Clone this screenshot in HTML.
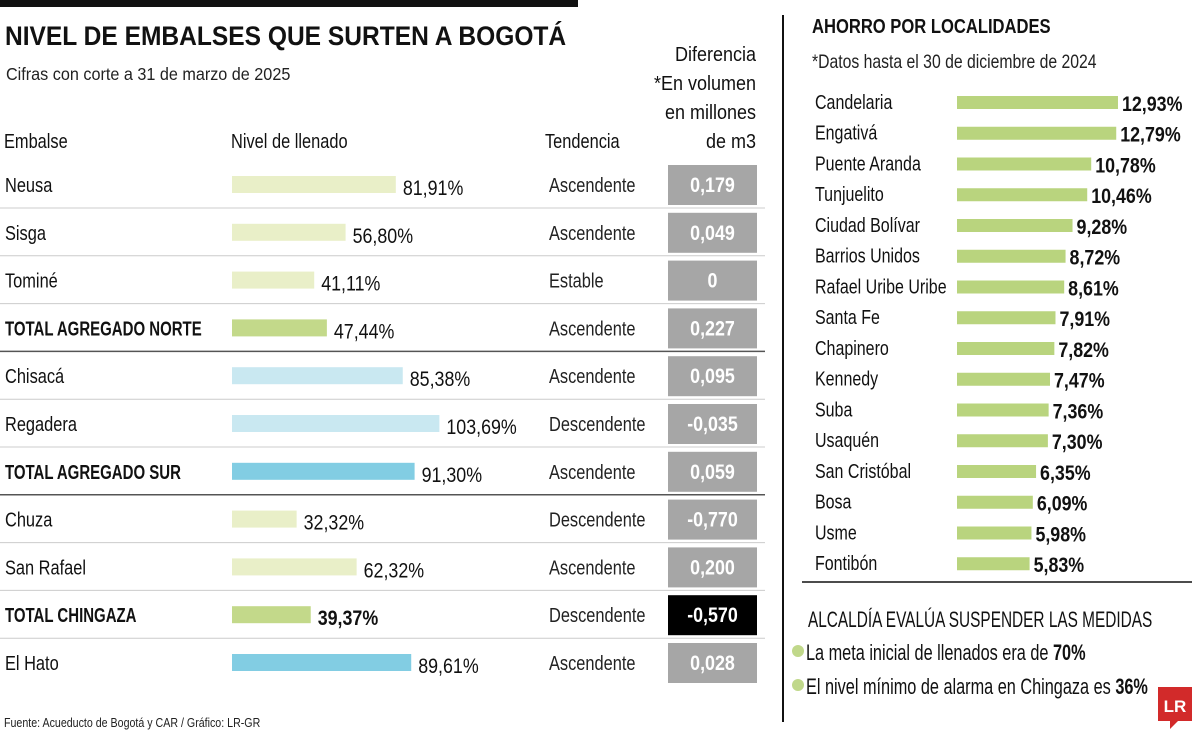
<!DOCTYPE html>
<html><head><meta charset="utf-8"><style>
html,body{margin:0;padding:0;background:#fff}
svg{display:block}
text{font-family:"Liberation Sans Narrow","Liberation Sans",sans-serif}
</style></head><body>
<svg id="c" width="1200" height="736" viewBox="0 0 1200 736" xmlns="http://www.w3.org/2000/svg">
<rect x="0" y="0" width="578" height="7" fill="#111"/>
<text x="5" y="45" font-size="27" font-weight="bold" fill="#111" data-sx="0.91">NIVEL DE EMBALSES QUE SURTEN A BOGOTÁ</text>
<text x="6" y="80" font-size="18" fill="#222" data-sx="0.9">Cifras con corte a 31 de marzo de 2025</text>
<text x="4" y="148" font-size="20" fill="#111" data-sx="0.82">Embalse</text>
<text x="231" y="148" font-size="20" fill="#111" data-sx="0.82">Nivel de llenado</text>
<text x="545" y="148" font-size="20" fill="#111" data-sx="0.82">Tendencia</text>
<g font-size="20" fill="#111" text-anchor="end">
<text x="756" y="61" data-sx="0.9">Diferencia</text><text x="756" y="90" data-sx="0.9">*En volumen</text><text x="756" y="119" data-sx="0.9">en millones</text><text x="756" y="148" data-sx="0.9">de m3</text>
</g>
<g id="left"></g>
<line x1="783" y1="15" x2="783" y2="722" stroke="#111" stroke-width="2"/>
<text x="812" y="33" font-size="20" font-weight="bold" fill="#111" data-sx="0.83">AHORRO POR LOCALIDADES</text>
<text x="812" y="68" font-size="19" fill="#222" data-sx="0.83">*Datos hasta el 30 de diciembre de 2024</text>
<g id="right"></g>
<line x1="802" y1="582" x2="1192" y2="582" stroke="#111" stroke-width="1.5"/>
<text x="808" y="627" font-size="22" fill="#111" data-sx="0.70">ALCALDÍA EVALÚA SUSPENDER LAS MEDIDAS</text>
<circle cx="798" cy="651" r="6" fill="#c0d88a"/>
<text x="806" y="660" font-size="22" fill="#111" data-sx="0.74">La meta inicial de llenados era de <tspan font-weight="bold">70%</tspan></text>
<circle cx="798" cy="685" r="6" fill="#c0d88a"/>
<text x="806" y="694" font-size="22" fill="#111" data-sx="0.74">El nivel mínimo de alarma en Chingaza es <tspan font-weight="bold">36%</tspan></text>
<g>
<rect x="1158" y="687" width="34" height="34" fill="#d22a2a"/><polygon points="1170,721 1178,721 1170,729" fill="#d22a2a"/>
<text x="1175" y="712" font-size="17" font-weight="bold" fill="#fff" text-anchor="middle" font-family="Liberation Serif,serif">LR</text>
</g>
<text x="4" y="727" font-size="13" fill="#222" data-sx="0.82">Fuente: Acueducto de Bogotá y CAR / Gráfico: LR-GR</text>
</svg>
<script>
const names=["Neusa","Sisga","Tominé","TOTAL AGREGADO NORTE","Chisacá","Regadera","TOTAL AGREGADO SUR","Chuza","San Rafael","TOTAL CHINGAZA","El Hato"];
const levels=[81.91,56.80,41.11,47.44,85.38,103.69,91.30,32.32,62.32,39.37,89.61];
const trends=["Ascendente","Ascendente","Estable","Ascendente","Ascendente","Descendente","Ascendente","Descendente","Ascendente","Descendente","Ascendente"];
const diffs=["0,179","0,049","0","0,227","0,095","-0,035","0,059","-0,770","0,200","-0,570","0,028"];
const barColors=["#e9efc8","#e9efc8","#e9efc8","#c3d98a","#c9e8f1","#c9e8f1","#82cde3","#e9efc8","#e9efc8","#c3d98a","#82cde3"];
const bold=[false,false,false,true,false,false,true,false,false,true,false];
const locs=["Candelaria","Engativá","Puente Aranda","Tunjuelito","Ciudad Bolívar","Barrios Unidos","Rafael Uribe Uribe","Santa Fe","Chapinero","Kennedy","Suba","Usaquén","San Cristóbal","Bosa","Usme","Fontibón"];
const saving=[12.93,12.79,10.78,10.46,9.28,8.72,8.61,7.91,7.82,7.47,7.36,7.30,6.35,6.09,5.98,5.83];
const NS="http://www.w3.org/2000/svg";
function mk(t,a,p){const e=document.createElementNS(NS,t);for(const k in a)e.setAttribute(k,a[k]);p.appendChild(e);return e;}
const L=document.getElementById('left');
const xL=v=>232+v*2.0, yRow=i=>184+i*47.8;
names.forEach((n,i)=>{
  const cy=yRow(i);
  const t=mk('text',{x:5,y:cy+8,'font-size':20,fill:'#111','font-weight':bold[i]?'bold':'normal','data-sx':bold[i]?0.75:0.82},L);t.textContent=n;
  
  
  const b=mk('rect',{x:232,y:cy-8,width:xL(levels[i])-232,height:17,fill:barColors[i]},L);
  
  
  const v=mk('text',{x:xL(levels[i])+7,y:cy+11,'font-size':21,fill:'#111','font-weight':i==9?'bold':'normal','data-sx':0.85},L);v.textContent=levels[i].toFixed(2).replace('.',',')+'%';
  
  
  const tr=mk('text',{x:549,y:cy+8,'font-size':20,fill:'#222','data-sx':0.82},L);tr.textContent=trends[i];
  
  
  const bx=mk('rect',{x:668,y:cy-19,width:89,height:40,fill:i==9?'#000':'#a6a6a6'},L);
  
  
  const d=mk('text',{x:712.5,y:cy+8,'font-size':21,'font-weight':'bold',fill:'#fff','text-anchor':'middle','data-sx':0.85},L);d.textContent=diffs[i];
  
  
  if(i<names.length-1){const dark=(i==3||i==6);
    const ln=mk('line',{x1:0,x2:765,y1:cy+24,y2:cy+24,stroke:dark?'#555':'#ccc','stroke-width':dark?1.5:1},L);
    
    }
});
const R=document.getElementById('right');
const xR=v=>957+v*12.45, yR=i=>102+i*30.75;
locs.forEach((n,i)=>{
  const cy=yR(i);
  const t=mk('text',{x:815,y:cy+7,'font-size':20,fill:'#111','data-sx':0.8},R);t.textContent=n;
  
  
  const b=mk('rect',{x:957,y:cy-6,width:xR(saving[i])-957,height:13,fill:'#b9d47e'},R);
  
  
  const v=mk('text',{x:xR(saving[i])+4,y:cy+9,'font-size':21,'font-weight':'bold',fill:'#111','data-sx':0.85},R);v.textContent=saving[i].toFixed(2).replace('.',',')+'%';
  
  
});
document.querySelectorAll('text[data-sx]').forEach(t=>{
  const s=parseFloat(t.getAttribute('data-sx')), x=parseFloat(t.getAttribute('x'));
  t.setAttribute('transform','translate('+x+',0) scale('+s+',1) translate('+(-x)+',0)');
});
</script>
</body></html>
